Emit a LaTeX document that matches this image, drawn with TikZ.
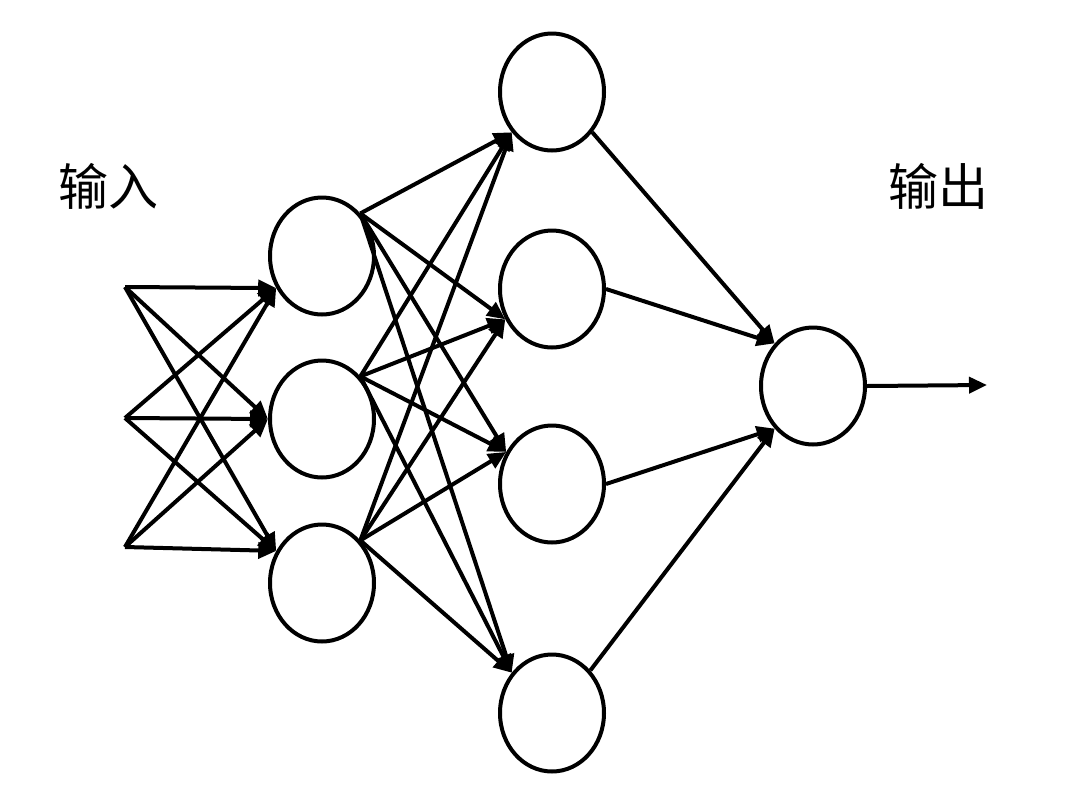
\documentclass[tikz,border=0pt]{standalone}
\usepackage{fontspec}
\newfontfamily\cjk{Noto Sans CJK SC}
\usetikzlibrary{shapes.geometric,arrows.meta}
\begin{document}
\begin{tikzpicture}[x=1pt,y=-1pt,
  neuron/.style={ellipse,draw=black,line width=4pt,minimum width=104pt,minimum height=117pt,inner sep=0pt},
  conn/.style={line width=4pt,-{Triangle[length=18pt,width=16pt]}},
  lbl/.style={font=\cjk\fontsize{50}{50}\selectfont}]
\useasboundingbox (0,0) rectangle (1080,796);
% input points
\coordinate (i1) at (125,287);
\coordinate (i2) at (125,418);
\coordinate (i3) at (125,547);
% hidden layer 1
\node[neuron] (h1) at (322,256) {};
\node[neuron] (h2) at (322,419) {};
\node[neuron] (h3) at (322,583) {};
% hidden layer 2
\node[neuron] (o1) at (552,92) {};
\node[neuron] (o2) at (552,289) {};
\node[neuron] (o3) at (552,484) {};
\node[neuron] (o4) at (552,713) {};
% output
\node[neuron] (out) at (813,386) {};
\coordinate (end) at (987,385);
% labels
\node[lbl] (lin) at (108,186) {输入};
\node[lbl] (lout) at (938,186) {输出};
% input -> hidden 1
\foreach \i in {i1,i2,i3}{
  \draw[conn] (\i) -- (h1.215);
  \draw[conn] (\i) -- (h2.180);
  \draw[conn] (\i) -- (h3.145);
}
% hidden 1 -> hidden 2
\foreach \h in {h1,h2,h3}{
  \draw[conn] (\h.48) -- (o1.225);
  \draw[conn] (\h.48) -- (o2.213);
  \draw[conn] (\h.48) -- (o3.145);
  \draw[conn] (\h.48) -- (o4.135);
}
% hidden 2 -> output
\draw[conn] (o1.315) -- (out.132);
\draw[conn] (o2.0) -- (out.132);
\draw[conn] (o3.0) -- (out.228);
\draw[conn] (o4.48) -- (out.228);
\draw[conn] (out.0) -- (end);
\end{tikzpicture}
\end{document}
